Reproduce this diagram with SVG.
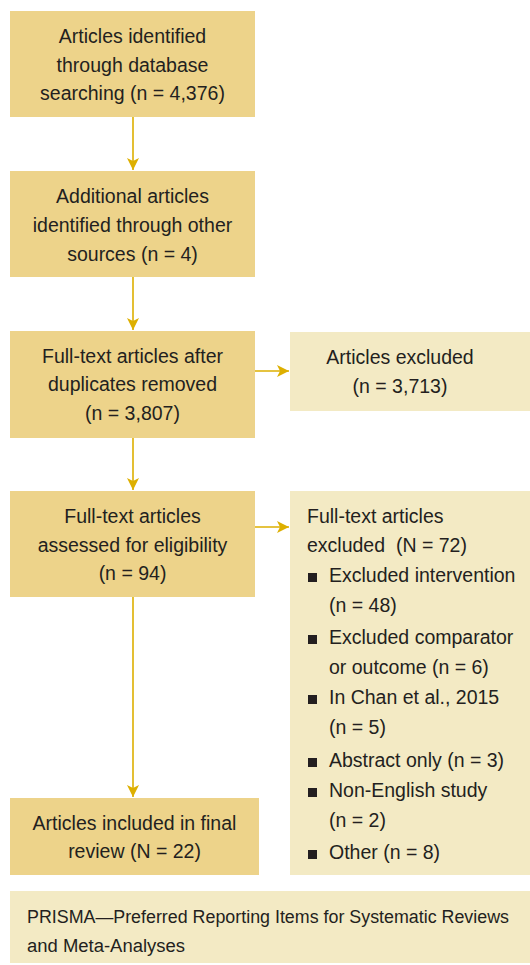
<svg xmlns="http://www.w3.org/2000/svg" width="530" height="965" viewBox="0 0 530 965">
<defs>
<style>
.dark{fill:#EDD38A}
.light{fill:#F3EAC4}
text{font-family:"Liberation Sans",Arial,sans-serif;font-size:19.5px;fill:#231F20}
.c{text-anchor:middle}
.leg{font-size:18px}
.conn{stroke:#DDAF00;stroke-width:1.6;fill:none}
.bul{fill:#231F20}
</style>
<marker id="ah" viewBox="0 0 12 12" refX="12" refY="6" markerWidth="12" markerHeight="12" markerUnits="userSpaceOnUse" orient="auto">
<path d="M0,0 L12,6 L0,12 L3,6 Z" fill="#DDAF00"/>
</marker>
</defs>
<rect width="530" height="965" fill="#FFFFFF"/>
<g id="connectors">
<line class="conn" x1="133" y1="117" x2="133" y2="170" marker-end="url(#ah)"/>
<line class="conn" x1="133" y1="277" x2="133" y2="330" marker-end="url(#ah)"/>
<line class="conn" x1="133" y1="438" x2="133" y2="490" marker-end="url(#ah)"/>
<line class="conn" x1="133" y1="597" x2="133" y2="797" marker-end="url(#ah)"/>
<line class="conn" x1="255" y1="371" x2="289" y2="371" marker-end="url(#ah)"/>
<line class="conn" x1="255" y1="527" x2="289" y2="527" marker-end="url(#ah)"/>
</g>
<g id="n1">
<rect class="dark" x="10" y="11" width="245" height="106"/>
<text class="c" x="132.5" y="43">Articles identified</text>
<text class="c" x="132.5" y="72">through database</text>
<text class="c" x="132.5" y="100">searching (n = 4,376)</text>
</g>
<g id="n2">
<rect class="dark" x="10" y="171" width="245" height="106"/>
<text class="c" x="132.5" y="203">Additional articles</text>
<text class="c" x="132.5" y="232">identified through other</text>
<text class="c" x="132.5" y="261">sources (n = 4)</text>
</g>
<g id="n3">
<rect class="dark" x="10" y="331" width="245" height="107"/>
<text class="c" x="132.5" y="363">Full-text articles after</text>
<text class="c" x="132.5" y="391">duplicates removed</text>
<text class="c" x="132.5" y="420">(n = 3,807)</text>
</g>
<g id="n3x">
<rect class="light" x="290" y="332" width="240" height="79"/>
<text class="c" x="400" y="364">Articles excluded</text>
<text class="c" x="400" y="393">(n = 3,713)</text>
</g>
<g id="n4">
<rect class="dark" x="10" y="491" width="245" height="106"/>
<text class="c" x="132.5" y="523">Full-text articles</text>
<text class="c" x="132.5" y="552">assessed for eligibility</text>
<text class="c" x="132.5" y="580">(n = 94)</text>
</g>
<g id="n4x">
<rect class="light" x="290" y="491" width="240" height="384"/>
<text x="307" y="523">Full-text articles</text>
<text x="307" y="552" xml:space="preserve">excluded  (N = 72)</text>
<rect class="bul" x="308" y="573" width="9" height="9"/>
<text x="329" y="582">Excluded intervention</text>
<text x="329" y="612">(n = 48)</text>
<rect class="bul" x="308" y="635" width="9" height="9"/>
<text x="329" y="644">Excluded comparator</text>
<text x="329" y="674">or outcome (n = 6)</text>
<rect class="bul" x="308" y="695" width="9" height="9"/>
<text x="329" y="704">In Chan et al., 2015</text>
<text x="329" y="734">(n = 5)</text>
<rect class="bul" x="308" y="758" width="9" height="9"/>
<text x="329" y="767">Abstract only (n = 3)</text>
<rect class="bul" x="308" y="788" width="9" height="9"/>
<text x="329" y="797">Non-English study</text>
<text x="329" y="827">(n = 2)</text>
<rect class="bul" x="308" y="850" width="9" height="9"/>
<text x="329" y="859">Other (n = 8)</text>
</g>
<g id="n5">
<rect class="dark" x="10" y="798" width="249" height="77"/>
<text class="c" x="134.5" y="830">Articles included in final</text>
<text class="c" x="134.5" y="858">review (N = 22)</text>
</g>
<g id="legend">
<rect class="light" x="10" y="891" width="520" height="72"/>
<text class="leg" x="27" y="923" textLength="482" lengthAdjust="spacingAndGlyphs">PRISMA—Preferred Reporting Items for Systematic Reviews</text>
<text class="leg" x="27" y="952" textLength="158" lengthAdjust="spacingAndGlyphs">and Meta-Analyses</text>
</g>
</svg>
